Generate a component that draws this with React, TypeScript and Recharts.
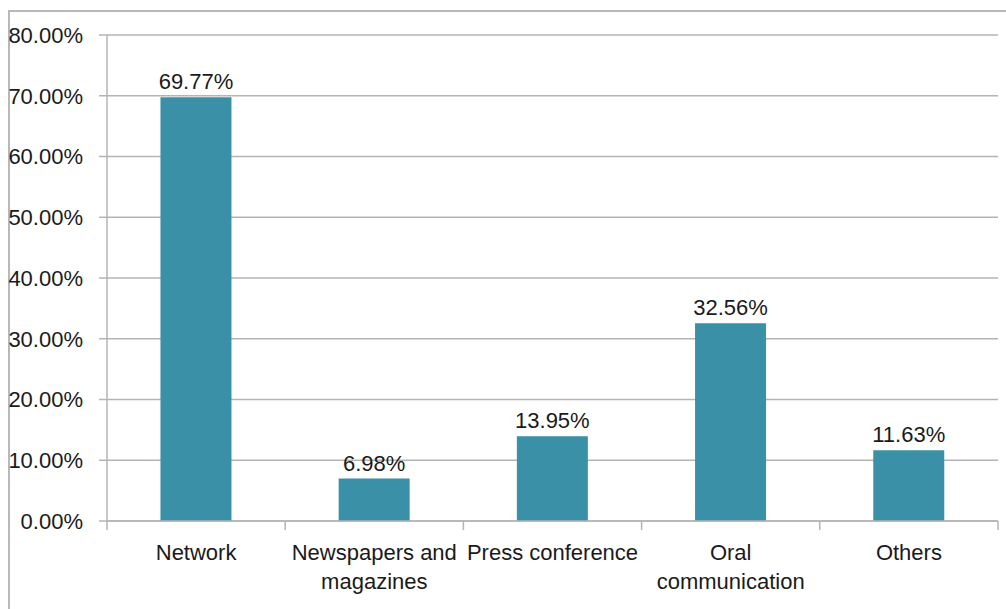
import React from 'react';
import { BarChart, Bar, XAxis, YAxis, CartesianGrid, LabelList } from 'recharts';

const categories = ['Network', 'Newspapers and\nmagazines', 'Press conference', 'Oral\ncommunication', 'Others'];
const shares = [69.77, 6.98, 13.95, 32.56, 11.63];
const yTicks = [0, 10, 20, 30, 40, 50, 60, 70, 80];

const FONT = '"Liberation Sans", Arial, sans-serif';
const BAR_COLOR = '#3a90a6';
const GRID_COLOR = '#b4b4b4';
const TICK_LEN = 9;

const chartData = categories.map((name, i) => ({ name, value: shares[i] }));

// Excel-style: tick marks sit between categories, labels in the middle
const CategoryTick = ({ x, y, payload, index, visibleTicksCount }: any) => {
  const lines = String(payload.value).split('\n');
  const half = payload.offset || 0;
  const axisY = y - TICK_LEN - 2;
  const isLast = index === visibleTicksCount - 1;
  return (
    <g>
      <line x1={x - half} x2={x - half} y1={axisY} y2={axisY + TICK_LEN} stroke={GRID_COLOR} strokeWidth={1.5} />
      {isLast && (
        <line x1={x + half} x2={x + half} y1={axisY} y2={axisY + TICK_LEN} stroke={GRID_COLOR} strokeWidth={1.5} />
      )}
      <text x={x} y={y} textAnchor="middle" fill="#1a1a1a" fontSize={22} fontFamily={FONT}>
        {lines.map((line, i) => (
          <tspan key={i} x={x} dy={i === 0 ? 28 : 29}>{line}</tspan>
        ))}
      </text>
    </g>
  );
};

const App: React.FC = () => {
  return (
    <div style={{ position: 'absolute', left: 0, top: 0, width: 1006, height: 609, background: '#fff' }}>
      <div
        style={{
          position: 'absolute',
          left: 8,
          top: 10,
          width: 1000,
          height: 600,
          borderTop: '2px solid #b8b8b8',
          borderLeft: '2px solid #b8b8b8',
        }}
      />
      <div style={{ position: 'absolute', left: 0, top: 0 }}>
        <BarChart
          width={1006}
          height={609}
          data={chartData}
          margin={{ top: 35, right: 8, left: 0, bottom: 0 }}
          barCategoryGap="30%"
        >
          <CartesianGrid vertical={false} stroke={GRID_COLOR} strokeWidth={1.5} />
          <XAxis
            dataKey="name"
            interval={0}
            height={88}
            tickSize={TICK_LEN}
            tickLine={false}
            stroke={GRID_COLOR}
            strokeWidth={1.5}
            tick={<CategoryTick />}
          />
          <YAxis
            width={107}
            domain={[0, 80]}
            ticks={yTicks}
            interval={0}
            tickSize={8}
            tickMargin={16}
            stroke={GRID_COLOR}
            strokeWidth={1.5}
            tickFormatter={(v: number) => `${v.toFixed(2)}%`}
            tick={{ fill: '#1a1a1a', fontSize: 22, fontFamily: FONT }}
          />
          <Bar dataKey="value" fill={BAR_COLOR} isAnimationActive={false}>
            <LabelList
              dataKey="value"
              position="top"
              offset={8}
              formatter={(v: any) => `${Number(v).toFixed(2)}%`}
              style={{ fill: '#1a1a1a', fontSize: 22, fontFamily: FONT }}
            />
          </Bar>
        </BarChart>
      </div>
    </div>
  );
};

export default App;
